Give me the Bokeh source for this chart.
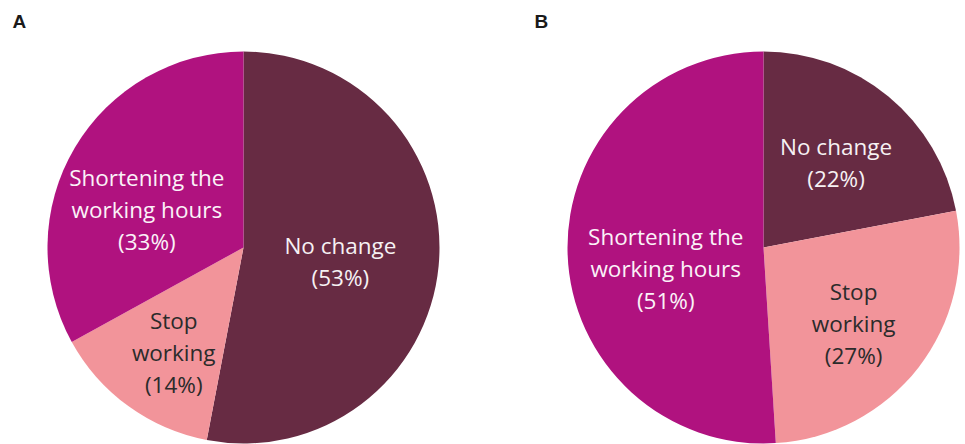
import math
from bokeh.plotting import figure
from bokeh.models import Range1d
from bokeh.core.properties import value
from bokeh.embed import file_html
from bokeh.resources import INLINE

# ---- data ----
panel_titles = ["A", "B"]
categories_a = ["No change", "Stop working", "Shortening the working hours"]
shares_a = [53, 14, 33]
categories_b = ["No change", "Stop working", "Shortening the working hours"]
shares_b = [22, 27, 51]
label_lines_a = [["No change", "(53%)"], ["Stop", "working", "(14%)"], ["Shortening the", "working hours", "(33%)"]]
label_lines_b = [["No change", "(22%)"], ["Stop", "working", "(27%)"], ["Shortening the", "working hours", "(51%)"]]

# ---- styles / layout ----
colors = {"No change": "#672B43", "Stop working": "#F2949A", "Shortening the working hours": "#B0127F"}
text_colors = {"No change": "#F6F1F3", "Stop working": "#2B2B2B", "Shortening the working hours": "#FBF2F8"}
W, H = 965, 444
R = 196
centers = [(243, 197), (763, 197)]
# label anchor: clockwise angle from top (deg), radius fraction
label_pos_a = [(98.5, 0.50), (213.5, 0.645), (291.5, 0.53)]
label_pos_b = [(40.5, 0.57), (130.0, 0.60), (258.0, 0.51)]
title_pos = [(12, 423), (534, 423)]
LINE_H = 32

p = figure(width=W, height=H, output_backend="svg", toolbar_location=None,
           x_range=Range1d(0, W), y_range=Range1d(0, H), min_border=0)
p.axis.visible = False
p.grid.visible = False
p.outline_line_color = None
p.background_fill_color = "white"
p.border_fill_color = "white"

panels = [(categories_a, shares_a, label_lines_a, label_pos_a),
          (categories_b, shares_b, label_lines_b, label_pos_b)]

for (cats, shares, lines, lpos), (cx, cy), title, (tx, ty) in zip(panels, centers, panel_titles, title_pos):
    total = float(sum(shares))
    cum = 0.0
    starts, ends, cols = [], [], []
    for c, s in zip(cats, shares):
        a0 = math.pi / 2 - 2 * math.pi * (cum + s) / total
        a1 = math.pi / 2 - 2 * math.pi * cum / total
        starts.append(a0)
        ends.append(a1)
        cols.append(colors[c])
        cum += s
    p.wedge(x=[cx] * len(cats), y=[cy] * len(cats), radius=R,
            start_angle=starts, end_angle=ends, fill_color=cols,
            line_color=None, direction="anticlock")
    xs, ys, txt, tc = [], [], [], []
    for c, ln, (ang, fr) in zip(cats, lines, lpos):
        th = math.radians(ang)
        lx = cx + R * fr * math.sin(th)
        ly = cy + R * fr * math.cos(th)
        n = len(ln)
        for i, t in enumerate(ln):
            xs.append(lx)
            ys.append(ly - (i - (n - 1) / 2) * LINE_H)
            txt.append(t)
            tc.append(text_colors[c])
    p.text(x=xs, y=ys, text=txt, text_color=tc, text_align="center",
           text_baseline="middle", text_font=value("Open Sans"),
           text_font_size="22.5px")
    p.text(x=[tx], y=[ty], text=[title], text_color="#1a1a1a", text_align="left",
           text_baseline="middle", text_font=value("Liberation Sans"),
           text_font_size="19px", text_font_style="bold")

open("out.html", "w").write(file_html(p, INLINE))
